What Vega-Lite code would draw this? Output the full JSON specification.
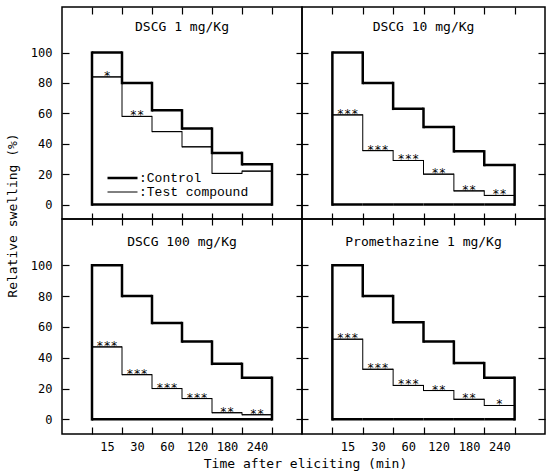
{
  "$schema": "https://vega.github.io/schema/vega-lite/v6.json",
  "padding": {"left": 5, "top": 5, "right": 5, "bottom": 5},
  "config": {
    "font": "DejaVu Sans Mono",
    "view": {"stroke": "black", "strokeWidth": 1.5},
    "axis": {"domain": false, "grid": false, "tickColor": "black", "tickWidth": 1.2, "labelColor": "black", "labelFont": "DejaVu Sans Mono", "labelFontSize": 12, "titleColor": "black", "titleFont": "DejaVu Sans Mono", "titleFontSize": 13, "titleFontWeight": "normal"},
    "title": {"font": "DejaVu Sans Mono", "fontSize": 13, "fontWeight": "normal", "color": "black"},
    "concat": {"spacing": 0}
  },
  "data": {"values": [
    {"panel": "DSCG 1 mg/Kg", "time": "15", "k": 0, "Control": 100, "Test compound": 84, "sig": "*"},
    {"panel": "DSCG 1 mg/Kg", "time": "30", "k": 1, "Control": 80, "Test compound": 58, "sig": "**"},
    {"panel": "DSCG 1 mg/Kg", "time": "60", "k": 2, "Control": 62, "Test compound": 48, "sig": ""},
    {"panel": "DSCG 1 mg/Kg", "time": "120", "k": 3, "Control": 50, "Test compound": 38, "sig": ""},
    {"panel": "DSCG 1 mg/Kg", "time": "180", "k": 4, "Control": 34, "Test compound": 20.5, "sig": ""},
    {"panel": "DSCG 1 mg/Kg", "time": "240", "k": 5, "Control": 26.5, "Test compound": 22, "sig": ""},
    {"panel": "DSCG 10 mg/Kg", "time": "15", "k": 0, "Control": 100, "Test compound": 59, "sig": "***"},
    {"panel": "DSCG 10 mg/Kg", "time": "30", "k": 1, "Control": 80, "Test compound": 35.5, "sig": "***"},
    {"panel": "DSCG 10 mg/Kg", "time": "60", "k": 2, "Control": 63, "Test compound": 29, "sig": "***"},
    {"panel": "DSCG 10 mg/Kg", "time": "120", "k": 3, "Control": 51, "Test compound": 20, "sig": "**"},
    {"panel": "DSCG 10 mg/Kg", "time": "180", "k": 4, "Control": 35, "Test compound": 9, "sig": "**"},
    {"panel": "DSCG 10 mg/Kg", "time": "240", "k": 5, "Control": 26, "Test compound": 6, "sig": "**"},
    {"panel": "DSCG 100 mg/Kg", "time": "15", "k": 0, "Control": 100, "Test compound": 47, "sig": "***"},
    {"panel": "DSCG 100 mg/Kg", "time": "30", "k": 1, "Control": 80, "Test compound": 29, "sig": "***"},
    {"panel": "DSCG 100 mg/Kg", "time": "60", "k": 2, "Control": 62.5, "Test compound": 20, "sig": "***"},
    {"panel": "DSCG 100 mg/Kg", "time": "120", "k": 3, "Control": 50.5, "Test compound": 13.5, "sig": "***"},
    {"panel": "DSCG 100 mg/Kg", "time": "180", "k": 4, "Control": 36, "Test compound": 4.3, "sig": "**"},
    {"panel": "DSCG 100 mg/Kg", "time": "240", "k": 5, "Control": 27, "Test compound": 3, "sig": "**"},
    {"panel": "Promethazine 1 mg/Kg", "time": "15", "k": 0, "Control": 100, "Test compound": 52, "sig": "***"},
    {"panel": "Promethazine 1 mg/Kg", "time": "30", "k": 1, "Control": 80, "Test compound": 32.5, "sig": "***"},
    {"panel": "Promethazine 1 mg/Kg", "time": "60", "k": 2, "Control": 63, "Test compound": 22, "sig": "***"},
    {"panel": "Promethazine 1 mg/Kg", "time": "120", "k": 3, "Control": 50.5, "Test compound": 18.7, "sig": "**"},
    {"panel": "Promethazine 1 mg/Kg", "time": "180", "k": 4, "Control": 36.5, "Test compound": 13, "sig": "**"},
    {"panel": "Promethazine 1 mg/Kg", "time": "240", "k": 5, "Control": 27, "Test compound": 9, "sig": "*"}
  ]},
  "bounds": "flush",
  "align": "each",
  "spacing": 0,
  "columns": 2,
  "resolve": {"scale": {"strokeWidth": "independent"}, "legend": {"strokeWidth": "independent"}},
  "concat": [
    {
      "width": 240, "height": 212,
      "title": {"text": "DSCG 1 mg/Kg", "offset": -28},
      "transform": [{"filter": "datum.panel === 'DSCG 1 mg/Kg'"}, {"fold": ["Control", "Test compound"], "as": ["series", "value"]}],
      "resolve": {"axis": {"x": "independent", "y": "independent"}},
      "layer": [
        {
          "mark": {"type": "bar", "filled": false, "color": "black"},
          "encoding": {
            "x": {"field": "time", "type": "ordinal", "sort": ["15", "30", "60", "120", "180", "240"], "scale": {"type": "band", "paddingInner": 0, "paddingOuter": 1}, "axis": {"orient": "top", "offset": -7, "tickSize": 7, "labels": false, "title": null, "tickBand": "extent"}},
            "y": {"field": "value", "type": "quantitative", "scale": {"domain": [-9.5, 130], "nice": false, "zero": false}, "axis": {"orient": "left", "offset": -7, "tickSize": 7, "values": [0, 20, 40, 60, 80, 100], "labelPadding": 10, "title": "Relative swelling (%)", "titleY": 208, "titlePadding": 11}},
            "y2": {"field": "value"},
            "strokeWidth": {"field": "series", "type": "nominal", "scale": {"domain": ["Control", "Test compound"], "range": [2.5, 1]}, "legend": {"orient": "none", "legendX": 44, "legendY": 164, "title": null, "symbolType": "stroke", "symbolSize": 900, "symbolStrokeColor": "black", "labelExpr": "':' + datum.label", "labelFont": "Liberation Mono", "labelFontSize": 13, "labelColor": "black", "labelOffset": 0, "rowPadding": 0, "clipHeight": 14}}
          }
        },
        {
          "transform": [{"window": [{"op": "lag", "field": "value", "as": "prev"}], "groupby": ["series"], "sort": [{"field": "k"}]}, {"filter": "datum.prev != null"}],
          "mark": {"type": "rule", "color": "black", "strokeCap": "square"},
          "encoding": {
            "x": {"field": "time", "type": "ordinal", "sort": ["15", "30", "60", "120", "180", "240"], "bandPosition": 0, "axis": {"orient": "bottom", "offset": -6, "tickSize": 12, "labels": false, "title": null, "tickBand": "extent"}},
            "y": {"field": "value", "type": "quantitative", "axis": null},
            "y2": {"field": "prev"},
            "strokeWidth": {"field": "series", "type": "nominal", "legend": null}
          }
        },
        {
          "transform": [{"filter": "datum.k === 0"}],
          "mark": {"type": "rule", "color": "black", "strokeCap": "square"},
          "encoding": {
            "x": {"field": "time", "type": "ordinal", "sort": ["15", "30", "60", "120", "180", "240"], "bandPosition": 0, "axis": null},
            "y": {"field": "value", "type": "quantitative", "axis": null},
            "y2": {"datum": 0},
            "strokeWidth": {"field": "series", "type": "nominal", "legend": null}
          }
        },
        {
          "transform": [{"filter": "datum.k === 5"}],
          "mark": {"type": "rule", "color": "black", "strokeCap": "square"},
          "encoding": {
            "x": {"field": "time", "type": "ordinal", "sort": ["15", "30", "60", "120", "180", "240"], "bandPosition": 1, "axis": null},
            "y": {"field": "value", "type": "quantitative", "axis": null},
            "y2": {"datum": 0},
            "strokeWidth": {"field": "series", "type": "nominal", "legend": null}
          }
        },
        {
          "transform": [{"filter": "datum.series === 'Control'"}],
          "mark": {"type": "bar", "filled": false, "color": "black", "strokeWidth": 2.5},
          "encoding": {
            "x": {"field": "time", "type": "ordinal", "sort": ["15", "30", "60", "120", "180", "240"], "axis": null},
            "y": {"datum": 0, "axis": null},
            "y2": {"datum": 0}
          }
        },
        {
          "transform": [{"filter": "datum.series === 'Test compound'"}],
          "mark": {"type": "text", "baseline": "alphabetic", "dy": 3, "fontSize": 12, "color": "black"},
          "encoding": {
            "x": {"field": "time", "type": "ordinal", "sort": ["15", "30", "60", "120", "180", "240"], "axis": null},
            "y": {"field": "value", "type": "quantitative", "axis": null},
            "text": {"field": "sig"}
          }
        }
      ]
    },
    {
      "width": 243, "height": 212,
      "title": {"text": "DSCG 10 mg/Kg", "offset": -28},
      "transform": [{"filter": "datum.panel === 'DSCG 10 mg/Kg'"}, {"fold": ["Control", "Test compound"], "as": ["series", "value"]}],
      "resolve": {"axis": {"x": "independent", "y": "independent"}},
      "layer": [
        {
          "mark": {"type": "bar", "filled": false, "color": "black"},
          "encoding": {
            "x": {"field": "time", "type": "ordinal", "sort": ["15", "30", "60", "120", "180", "240"], "scale": {"type": "band", "paddingInner": 0, "paddingOuter": 1}, "axis": {"orient": "top", "offset": -7, "tickSize": 7, "labels": false, "title": null, "tickBand": "extent"}},
            "y": {"field": "value", "type": "quantitative", "scale": {"domain": [-9.5, 130], "nice": false, "zero": false}, "axis": {"orient": "left", "offset": -6, "tickSize": 12, "values": [0, 20, 40, 60, 80, 100], "labels": false, "title": null}},
            "y2": {"field": "value"},
            "strokeWidth": {"field": "series", "type": "nominal", "scale": {"domain": ["Control", "Test compound"], "range": [2.5, 1]}, "legend": null}
          }
        },
        {
          "transform": [{"window": [{"op": "lag", "field": "value", "as": "prev"}], "groupby": ["series"], "sort": [{"field": "k"}]}, {"filter": "datum.prev != null"}],
          "mark": {"type": "rule", "color": "black", "strokeCap": "square"},
          "encoding": {
            "x": {"field": "time", "type": "ordinal", "sort": ["15", "30", "60", "120", "180", "240"], "bandPosition": 0, "axis": {"orient": "bottom", "offset": -6, "tickSize": 12, "labels": false, "title": null, "tickBand": "extent"}},
            "y": {"field": "value", "type": "quantitative", "axis": {"orient": "right", "offset": -7, "tickSize": 7, "values": [0, 20, 40, 60, 80, 100], "labels": false, "title": null}},
            "y2": {"field": "prev"},
            "strokeWidth": {"field": "series", "type": "nominal", "legend": null}
          }
        },
        {
          "transform": [{"filter": "datum.k === 0"}],
          "mark": {"type": "rule", "color": "black", "strokeCap": "square"},
          "encoding": {
            "x": {"field": "time", "type": "ordinal", "sort": ["15", "30", "60", "120", "180", "240"], "bandPosition": 0, "axis": null},
            "y": {"field": "value", "type": "quantitative", "axis": null},
            "y2": {"datum": 0},
            "strokeWidth": {"field": "series", "type": "nominal", "legend": null}
          }
        },
        {
          "transform": [{"filter": "datum.k === 5"}],
          "mark": {"type": "rule", "color": "black", "strokeCap": "square"},
          "encoding": {
            "x": {"field": "time", "type": "ordinal", "sort": ["15", "30", "60", "120", "180", "240"], "bandPosition": 1, "axis": null},
            "y": {"field": "value", "type": "quantitative", "axis": null},
            "y2": {"datum": 0},
            "strokeWidth": {"field": "series", "type": "nominal", "legend": null}
          }
        },
        {
          "transform": [{"filter": "datum.series === 'Control'"}],
          "mark": {"type": "bar", "filled": false, "color": "black", "strokeWidth": 2.5},
          "encoding": {
            "x": {"field": "time", "type": "ordinal", "sort": ["15", "30", "60", "120", "180", "240"], "axis": null},
            "y": {"datum": 0, "axis": null},
            "y2": {"datum": 0}
          }
        },
        {
          "transform": [{"filter": "datum.series === 'Test compound'"}],
          "mark": {"type": "text", "baseline": "alphabetic", "dy": 3, "fontSize": 12, "color": "black"},
          "encoding": {
            "x": {"field": "time", "type": "ordinal", "sort": ["15", "30", "60", "120", "180", "240"], "axis": null},
            "y": {"field": "value", "type": "quantitative", "axis": null},
            "text": {"field": "sig"}
          }
        }
      ]
    },
    {
      "width": 240, "height": 215,
      "title": {"text": "DSCG 100 mg/Kg", "offset": -30},
      "transform": [{"filter": "datum.panel === 'DSCG 100 mg/Kg'"}, {"fold": ["Control", "Test compound"], "as": ["series", "value"]}],
      "resolve": {"axis": {"x": "independent", "y": "independent"}},
      "layer": [
        {
          "mark": {"type": "bar", "filled": false, "color": "black"},
          "encoding": {
            "x": {"field": "time", "type": "ordinal", "sort": ["15", "30", "60", "120", "180", "240"], "scale": {"type": "band", "paddingInner": 0, "paddingOuter": 1}, "axis": {"orient": "bottom", "offset": -7, "tickSize": 7, "labelPadding": 7, "labelAngle": 0, "tickBand": "extent", "title": "Time after eliciting (min)", "titleX": 243, "titlePadding": 5}},
            "y": {"field": "value", "type": "quantitative", "scale": {"domain": [-9.5, 130], "nice": false, "zero": false}, "axis": {"orient": "left", "offset": -7, "tickSize": 7, "values": [0, 20, 40, 60, 80, 100], "labelPadding": 10, "title": null}},
            "y2": {"field": "value"},
            "strokeWidth": {"field": "series", "type": "nominal", "scale": {"domain": ["Control", "Test compound"], "range": [2.5, 1]}, "legend": null}
          }
        },
        {
          "transform": [{"window": [{"op": "lag", "field": "value", "as": "prev"}], "groupby": ["series"], "sort": [{"field": "k"}]}, {"filter": "datum.prev != null"}],
          "mark": {"type": "rule", "color": "black", "strokeCap": "square"},
          "encoding": {
            "x": {"field": "time", "type": "ordinal", "sort": ["15", "30", "60", "120", "180", "240"], "bandPosition": 0, "axis": null},
            "y": {"field": "value", "type": "quantitative", "axis": null},
            "y2": {"field": "prev"},
            "strokeWidth": {"field": "series", "type": "nominal", "legend": null}
          }
        },
        {
          "transform": [{"filter": "datum.k === 0"}],
          "mark": {"type": "rule", "color": "black", "strokeCap": "square"},
          "encoding": {
            "x": {"field": "time", "type": "ordinal", "sort": ["15", "30", "60", "120", "180", "240"], "bandPosition": 0, "axis": null},
            "y": {"field": "value", "type": "quantitative", "axis": null},
            "y2": {"datum": 0},
            "strokeWidth": {"field": "series", "type": "nominal", "legend": null}
          }
        },
        {
          "transform": [{"filter": "datum.k === 5"}],
          "mark": {"type": "rule", "color": "black", "strokeCap": "square"},
          "encoding": {
            "x": {"field": "time", "type": "ordinal", "sort": ["15", "30", "60", "120", "180", "240"], "bandPosition": 1, "axis": null},
            "y": {"field": "value", "type": "quantitative", "axis": null},
            "y2": {"datum": 0},
            "strokeWidth": {"field": "series", "type": "nominal", "legend": null}
          }
        },
        {
          "transform": [{"filter": "datum.series === 'Control'"}],
          "mark": {"type": "bar", "filled": false, "color": "black", "strokeWidth": 2.5},
          "encoding": {
            "x": {"field": "time", "type": "ordinal", "sort": ["15", "30", "60", "120", "180", "240"], "axis": null},
            "y": {"datum": 0, "axis": null},
            "y2": {"datum": 0}
          }
        },
        {
          "transform": [{"filter": "datum.series === 'Test compound'"}],
          "mark": {"type": "text", "baseline": "alphabetic", "dy": 3, "fontSize": 12, "color": "black"},
          "encoding": {
            "x": {"field": "time", "type": "ordinal", "sort": ["15", "30", "60", "120", "180", "240"], "axis": null},
            "y": {"field": "value", "type": "quantitative", "axis": null},
            "text": {"field": "sig"}
          }
        }
      ]
    },
    {
      "width": 243, "height": 215,
      "title": {"text": "Promethazine 1 mg/Kg", "offset": -30},
      "transform": [{"filter": "datum.panel === 'Promethazine 1 mg/Kg'"}, {"fold": ["Control", "Test compound"], "as": ["series", "value"]}],
      "resolve": {"axis": {"x": "independent", "y": "independent"}},
      "layer": [
        {
          "mark": {"type": "bar", "filled": false, "color": "black"},
          "encoding": {
            "x": {"field": "time", "type": "ordinal", "sort": ["15", "30", "60", "120", "180", "240"], "scale": {"type": "band", "paddingInner": 0, "paddingOuter": 1}, "axis": {"orient": "bottom", "offset": -7, "tickSize": 7, "labelPadding": 7, "labelAngle": 0, "tickBand": "extent", "title": null}},
            "y": {"field": "value", "type": "quantitative", "scale": {"domain": [-9.5, 130], "nice": false, "zero": false}, "axis": {"orient": "left", "offset": -6, "tickSize": 12, "values": [0, 20, 40, 60, 80, 100], "labels": false, "title": null}},
            "y2": {"field": "value"},
            "strokeWidth": {"field": "series", "type": "nominal", "scale": {"domain": ["Control", "Test compound"], "range": [2.5, 1]}, "legend": null}
          }
        },
        {
          "transform": [{"window": [{"op": "lag", "field": "value", "as": "prev"}], "groupby": ["series"], "sort": [{"field": "k"}]}, {"filter": "datum.prev != null"}],
          "mark": {"type": "rule", "color": "black", "strokeCap": "square"},
          "encoding": {
            "x": {"field": "time", "type": "ordinal", "sort": ["15", "30", "60", "120", "180", "240"], "bandPosition": 0, "axis": null},
            "y": {"field": "value", "type": "quantitative", "axis": {"orient": "right", "offset": -7, "tickSize": 7, "values": [0, 20, 40, 60, 80, 100], "labels": false, "title": null}},
            "y2": {"field": "prev"},
            "strokeWidth": {"field": "series", "type": "nominal", "legend": null}
          }
        },
        {
          "transform": [{"filter": "datum.k === 0"}],
          "mark": {"type": "rule", "color": "black", "strokeCap": "square"},
          "encoding": {
            "x": {"field": "time", "type": "ordinal", "sort": ["15", "30", "60", "120", "180", "240"], "bandPosition": 0, "axis": null},
            "y": {"field": "value", "type": "quantitative", "axis": null},
            "y2": {"datum": 0},
            "strokeWidth": {"field": "series", "type": "nominal", "legend": null}
          }
        },
        {
          "transform": [{"filter": "datum.k === 5"}],
          "mark": {"type": "rule", "color": "black", "strokeCap": "square"},
          "encoding": {
            "x": {"field": "time", "type": "ordinal", "sort": ["15", "30", "60", "120", "180", "240"], "bandPosition": 1, "axis": null},
            "y": {"field": "value", "type": "quantitative", "axis": null},
            "y2": {"datum": 0},
            "strokeWidth": {"field": "series", "type": "nominal", "legend": null}
          }
        },
        {
          "transform": [{"filter": "datum.series === 'Control'"}],
          "mark": {"type": "bar", "filled": false, "color": "black", "strokeWidth": 2.5},
          "encoding": {
            "x": {"field": "time", "type": "ordinal", "sort": ["15", "30", "60", "120", "180", "240"], "axis": null},
            "y": {"datum": 0, "axis": null},
            "y2": {"datum": 0}
          }
        },
        {
          "transform": [{"filter": "datum.series === 'Test compound'"}],
          "mark": {"type": "text", "baseline": "alphabetic", "dy": 3, "fontSize": 12, "color": "black"},
          "encoding": {
            "x": {"field": "time", "type": "ordinal", "sort": ["15", "30", "60", "120", "180", "240"], "axis": null},
            "y": {"field": "value", "type": "quantitative", "axis": null},
            "text": {"field": "sig"}
          }
        }
      ]
    }
  ]
}
